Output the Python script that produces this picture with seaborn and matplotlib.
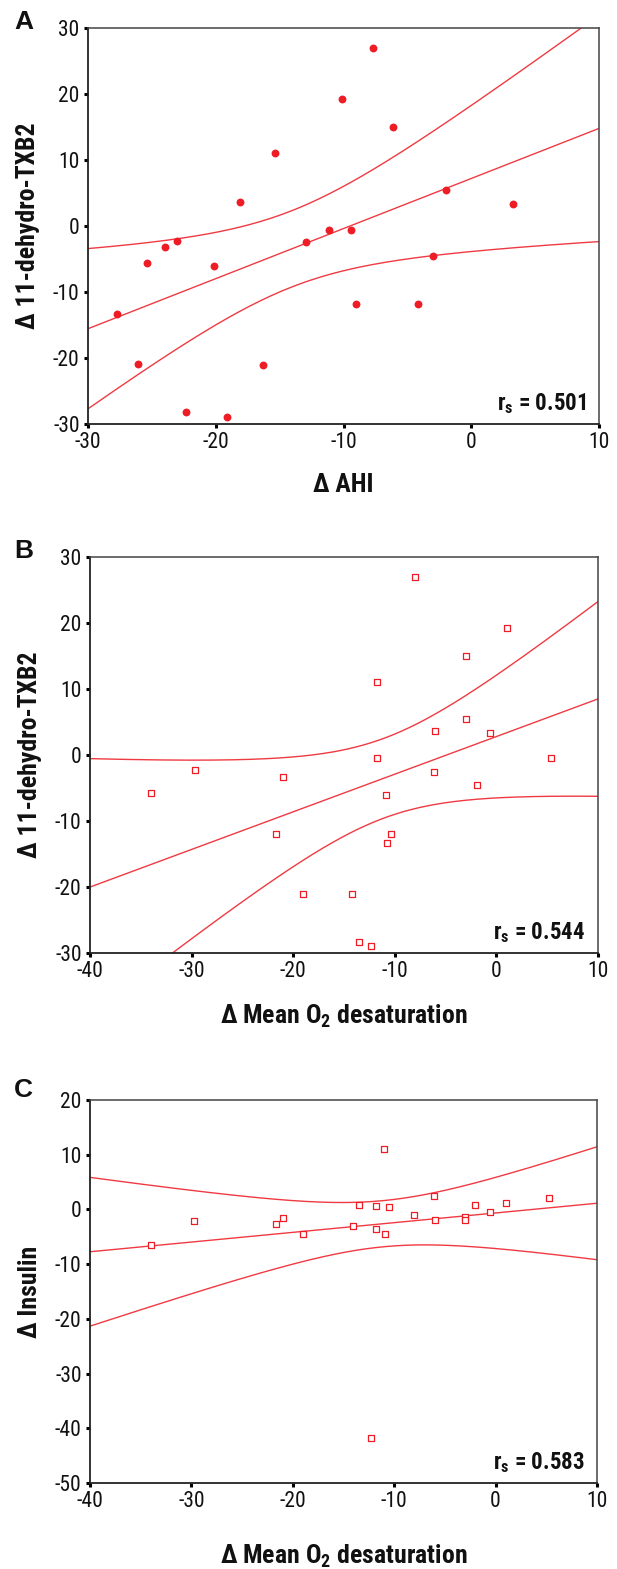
import numpy as np
import pandas as pd
import matplotlib
matplotlib.use("Agg")
import matplotlib.pyplot as plt
from matplotlib import font_manager
import seaborn as sns

# ---------------- data ----------------
ahi_a = [-27.7, -26.1, -25.4, -24.0, -23.0, -22.3, -20.1, -19.1, -18.1, -16.3, -15.4,
         -12.9, -11.1, -10.1, -9.4, -9.0, -7.7, -6.1, -4.2, -3.0, -2.0, 3.3]
txb2_a = [-13.3, -20.9, -5.6, -3.2, -2.3, -28.2, -6.1, -29.0, 3.6, -21.1, 11.1,
          -2.4, -0.6, 19.2, -0.6, -11.8, 27.0, 15.0, -11.8, -4.5, 5.5, 3.4]

o2_b = [-34.0, -29.7, -21.7, -21.0, -19.0, -14.2, -13.5, -12.3, -11.8, -11.8, -10.9,
        -10.8, -10.4, -8.0, -6.1, -6.0, -3.0, -3.0, -1.9, -0.6, 1.0, 5.4]
txb2_b = [-5.7, -2.3, -11.9, -3.3, -21.0, -21.1, -28.3, -29.0, 11.1, -0.5, -6.1,
          -13.3, -11.9, 27.0, -2.5, 3.6, 15.0, 5.5, -4.6, 3.4, 19.2, -0.5]

o2_c = [-34.0, -29.7, -21.7, -21.0, -19.0, -14.1, -13.5, -12.3, -11.8, -11.8, -11.0,
        -10.9, -10.5, -8.0, -6.1, -6.0, -3.0, -3.0, -2.0, -0.6, 1.0, 5.3]
insulin_c = [-6.5, -2.1, -2.6, -1.5, -4.5, -3.0, 0.9, -41.8, 0.6, -3.5, 11.1,
             -4.5, 0.4, -1.1, 2.4, -1.9, -1.3, -1.9, 0.8, -0.5, 1.1, 2.0]

panel_letters = ["A", "B", "C"]
r_texts = ["0.501", "0.544", "0.583"]
xlabels = ["Δ AHI", "Δ Mean O$_\\mathbf{2}$ desaturation", "Δ Mean O$_\\mathbf{2}$ desaturation"]
ylabels = ["Δ 11-dehydro-TXB2", "Δ 11-dehydro-TXB2", "Δ Insulin"]
xlims = [(-30, 10), (-40, 10), (-40, 10)]
ylims = [(-30, 30), (-30, 30), (-50, 20)]
xticks = [[-30, -20, -10, 0, 10], [-40, -30, -20, -10, 0, 10], [-40, -30, -20, -10, 0, 10]]
yticks = [[-30, -20, -10, 0, 10, 20, 30], [-30, -20, -10, 0, 10, 20, 30],
          [-50, -40, -30, -20, -10, 0, 10, 20]]

T_975_DF20 = 2.086

# ---------------- fonts ----------------
available = {f.name for f in font_manager.fontManager.ttflist}
FONT = "DejaVu Sans"
for cand in ["Liberation Sans Narrow", "Roboto Condensed", "Open Sans Condensed",
             "Noto Sans Condensed", "Liberation Sans", "Roboto"]:
    if cand in available:
        FONT = cand
        break
WIDE = "Liberation Sans" if "Liberation Sans" in available else "DejaVu Sans"

sns.set_style("ticks")
plt.rcParams["font.family"] = [FONT, "DejaVu Sans"]
plt.rcParams["mathtext.fontset"] = "custom"
plt.rcParams["mathtext.rm"] = FONT
plt.rcParams["mathtext.bf"] = FONT + ":bold"
plt.rcParams["axes.unicode_minus"] = False

RED = "#ee1c25"
LINE = "#f03a42"
INK = "#111111"

fig = plt.figure(figsize=(6.17, 15.69), dpi=100)
positions = [
    [88 / 617, 1 - 424 / 1569, 511 / 617, 396 / 1569],
    [90 / 617, 1 - 953 / 1569, 508 / 617, 396 / 1569],
    [90 / 617, 1 - 1483 / 1569, 507 / 617, 383 / 1569],
]
datasets = [(ahi_a, txb2_a), (o2_b, txb2_b), (o2_c, insulin_c)]
letter_y = [22, 551, 1090]
xlabel_top = [-0.124, -0.124, -0.155]

for i, (xs, ys) in enumerate(datasets):
    ax = fig.add_axes(positions[i])
    x = np.asarray(xs, float)
    y = np.asarray(ys, float)
    df = pd.DataFrame({"x": x, "y": y})

    # OLS fit with 95% CI of mean prediction
    n = len(x)
    b1, b0 = np.polyfit(x, y, 1)
    resid = y - (b0 + b1 * x)
    s = np.sqrt(np.sum(resid ** 2) / (n - 2))
    xm = x.mean()
    sxx = np.sum((x - xm) ** 2)
    gx = np.linspace(xlims[i][0], xlims[i][1], 200)
    fit = b0 + b1 * gx
    se = s * np.sqrt(1.0 / n + (gx - xm) ** 2 / sxx)
    lines = pd.DataFrame({"x": np.concatenate([gx, gx, gx]),
                          "y": np.concatenate([fit, fit + T_975_DF20 * se, fit - T_975_DF20 * se]),
                          "k": ["fit"] * len(gx) + ["up"] * len(gx) + ["lo"] * len(gx)})
    sns.lineplot(data=lines, x="x", y="y", units="k", estimator=None, color=LINE,
                 lw=1.0, ax=ax, sort=False)

    if i == 0:
        sns.scatterplot(data=df, x="x", y="y", ax=ax, s=32, color=RED, edgecolor=RED,
                        linewidth=0, marker="o", zorder=3)
    else:
        sns.scatterplot(data=df, x="x", y="y", ax=ax, s=14, marker="s",
                        facecolor="white", edgecolor=RED, linewidth=0.9, zorder=3)

    ax.set_xlim(*xlims[i])
    ax.set_ylim(*ylims[i])
    ax.set_xticks(xticks[i])
    ax.set_yticks(yticks[i])
    ax.tick_params(axis="both", direction="out", length=3, width=2.2, labelsize=15.5,
                   pad=3, color="black", labelcolor=INK)
    for side in ["left", "bottom"]:
        ax.spines[side].set_color("#222222")
        ax.spines[side].set_linewidth(1.3)
    for side in ["top", "right"]:
        ax.spines[side].set_visible(True)
        ax.spines[side].set_color("#444444")
        ax.spines[side].set_linewidth(1.1)

    ax.set_xlabel(xlabels[i], fontsize=18.5, fontweight="bold", color=INK)
    ax.xaxis.set_label_coords(0.5, xlabel_top[i])
    ax.set_ylabel(ylabels[i], fontsize=18.5, fontweight="bold", labelpad=9, color=INK)

    ax.text(0.975, 0.035, "$\\mathbf{r}_\\mathbf{s}$ = " + r_texts[i], transform=ax.transAxes,
            ha="right", va="baseline", fontsize=16.5, fontweight="bold", color=INK)

    fig.text(14 / 617, 1 - letter_y[i] / 1569, panel_letters[i], fontsize=19,
             fontweight="bold", family=[WIDE, "DejaVu Sans"], ha="left", va="center",
             color=INK)

fig.savefig("out.png", dpi=100)
